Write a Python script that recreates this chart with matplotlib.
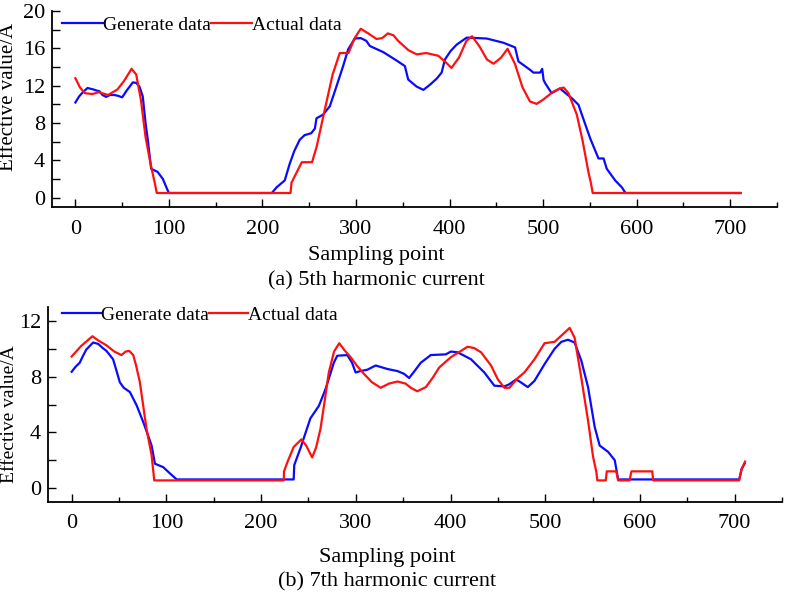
import matplotlib
matplotlib.use("Agg")
import matplotlib.pyplot as plt
from matplotlib.ticker import MultipleLocator

plt.rcParams['font.family'] = ['Liberation Serif', 'DejaVu Serif']

# (a) 5th harmonic current
gen5_x = [0, 4, 8, 13, 19, 22, 25.7, 29, 32.8, 37, 41.8, 46, 50, 55, 61.4, 65, 68.5, 72,
          75, 77.4, 79, 81, 88, 93.5, 98.8, 100, 210, 215, 223.8, 229, 234, 239.8, 245,
          252, 256, 257.7, 264.8, 272, 279, 286.2, 291.6, 298.7, 305, 311, 314.8, 329,
          343.3, 352.2, 355.8, 364.8, 372, 379, 386.2, 391.5, 395, 401, 407.6, 418.3,
          439.7, 457.5, 470, 473.6, 486, 489.6, 496.8, 499, 500.5, 502, 509, 518, 524,
          530.7, 537.8, 541.4, 550.3, 559.2, 564.6, 568, 577, 584.2, 588, 711]
gen5_y = [10.2, 10.85, 11.3, 11.75, 11.6, 11.5, 11.4, 11.0, 10.8, 11.0, 11.0, 10.9, 10.75,
          11.5, 12.35, 12.3, 11.9, 10.85, 8.0, 6.2, 4.8, 3.1, 2.75, 2.0, 0.75, 0.5, 0.5,
          1.1, 1.85, 3.6, 5.0, 6.2, 6.7, 6.9, 7.4, 8.5, 8.9, 9.8, 11.9, 14.1, 15.9, 17.05,
          17.1, 16.8, 16.25, 15.6, 14.7, 14.1, 12.65, 11.9, 11.55, 12.1, 12.75, 13.4,
          14.8, 15.7, 16.4, 17.15, 17.05, 16.6, 16.1, 14.6, 13.7, 13.4, 13.4, 13.8, 12.6,
          12.3, 11.2, 11.7, 11.2, 10.65, 9.95, 8.9, 6.35, 4.2, 4.2, 3.1, 1.85, 1.1, 0.5, 0.5]

act5_x = [0, 5, 10, 18, 25, 35, 45, 52, 60, 65, 70, 75, 80, 85, 87, 230, 231, 236, 242,
          253, 258, 266.5, 275, 282.6, 292, 298, 305, 313, 322, 328, 334, 340, 345, 356,
          365, 375, 388, 396, 402, 410, 418, 424, 432, 440, 447, 455, 462, 470, 478, 486,
          493, 500, 510, 518, 522, 527, 536, 542, 548.5, 551, 553, 711]
act5_y = [12.8, 11.8, 11.2, 11.1, 11.3, 11.0, 11.6, 12.5, 13.8, 13.2, 10.5, 6.5, 3.8, 1.5,
          0.5, 0.5, 1.6, 2.6, 3.8, 3.8, 5.5, 9.4, 13.2, 15.5, 15.5, 17.0, 18.1, 17.6, 17.0,
          17.1, 17.6, 17.4, 16.8, 15.8, 15.35, 15.5, 15.2, 14.5, 13.9, 15.0, 16.8, 17.3,
          16.2, 14.8, 14.35, 15.0, 15.95, 14.3, 11.8, 10.3, 10.05, 10.5, 11.3, 11.7, 11.8,
          11.2, 8.9, 6.2, 2.7, 1.6, 0.5, 0.5]

# (b) 7th harmonic current
gen7_x = [0, 4, 8.5, 12, 15.5, 22.6, 28, 32, 36.7, 43.7, 47, 50.8, 55, 61.4, 68.5, 75.5,
          80, 84.4, 87.9, 96.7, 103.8, 110.9, 234.4, 235, 241.5, 252, 261, 268, 276.8,
          280.4, 291, 296, 299.8, 305, 312.2, 321, 333.3, 344, 351, 356.3, 362, 368.6,
          379.2, 395, 400.4, 407.4, 421.6, 435.7, 446.3, 456.9, 462, 469.3, 474, 481.6,
          488.7, 499.3, 509.9, 517, 524, 531, 538.1, 545.2, 552.2, 557.5, 566.4, 573.4,
          577, 704.8, 707.6, 710.5]
gen7_y = [8.35, 8.7, 9.0, 9.5, 9.95, 10.45, 10.35, 10.1, 9.85, 9.25, 8.5, 7.6, 7.2, 6.9,
          5.95, 4.75, 3.9, 3.05, 1.75, 1.5, 1.05, 0.62, 0.62, 1.65, 2.85, 5.0, 5.9, 7.1,
          9.0, 9.5, 9.55, 9.0, 8.3, 8.4, 8.5, 8.8, 8.55, 8.4, 8.2, 7.9, 8.4, 9.0, 9.55,
          9.6, 9.8, 9.75, 9.25, 8.3, 7.35, 7.3, 7.45, 7.8, 7.6, 7.25, 7.7, 8.9, 10.0,
          10.5, 10.65, 10.45, 9.15, 7.25, 4.4, 3.05, 2.6, 2.0, 0.62, 0.62, 1.4, 1.75]

act7_x = [0, 10, 21.9, 28, 36.7, 45, 52.6, 57, 60.7, 65, 68, 72, 79, 84.4, 87.2, 223.9,
          224.2, 228, 234.4, 242.6, 248, 253.9, 258, 262.7, 267, 271.5, 277, 282.5, 288,
          294.5, 301, 308.6, 317, 326.3, 335, 344, 352.6, 358, 365, 374, 381, 388, 400.4,
          410, 418, 425, 432.2, 442.8, 450, 456.9, 462.2, 471, 478, 488.7, 499.3, 509.9,
          518.7, 525.8, 531, 538, 545.2, 550.5, 554, 555, 563.9, 565, 575, 577, 589, 591,
          613, 614, 704.8, 707, 711]
act7_y = [9.45, 10.2, 10.9, 10.6, 10.25, 9.8, 9.55, 9.8, 9.85, 9.55, 8.8, 7.6, 4.25, 2.35,
          0.55, 0.55, 1.2, 1.9, 2.95, 3.5, 3.0, 2.2, 2.9, 4.25, 6.2, 8.3, 9.8, 10.4, 9.9,
          9.4, 8.8, 8.2, 7.6, 7.2, 7.5, 7.65, 7.5, 7.2, 6.95, 7.25, 7.9, 8.65, 9.4, 9.8,
          10.15, 10.05, 9.75, 8.8, 7.8, 7.2, 7.2, 7.9, 8.3, 9.25, 10.4, 10.5, 11.05, 11.5,
          10.8, 7.95, 4.85, 2.25, 1.15, 0.55, 0.55, 1.2, 1.2, 0.55, 0.55, 1.2, 1.2, 0.55,
          0.55, 1.3, 1.9]

fig = plt.figure(figsize=(7.86, 5.97), dpi=100)


def style_axes(ax, ylim, ymajor):
    ax.set_xlim(-25, 750)
    ax.set_ylim(*ylim)
    ax.spines['top'].set_visible(False)
    ax.spines['right'].set_visible(False)
    ax.xaxis.set_major_locator(MultipleLocator(100))
    ax.xaxis.set_minor_locator(MultipleLocator(50))
    ax.yaxis.set_major_locator(MultipleLocator(ymajor))
    ax.yaxis.set_minor_locator(MultipleLocator(2))
    ax.tick_params(axis='x', which='major', direction='in', length=6, width=1, pad=9, labelsize=16)
    ax.tick_params(axis='x', which='minor', direction='in', length=3.5, width=1)
    ax.tick_params(axis='y', which='both', direction='in', length=6, width=1, pad=5, labelsize=16)
    for s in ('left', 'bottom'):
        ax.spines[s].set_linewidth(1.3)


# top panel
ax1 = fig.add_axes([52/786, 1-207/597, 725/786, 196/597])
l1, = ax1.plot(gen5_x, gen5_y, color='#0a0aff', lw=1.6)
l2, = ax1.plot(act5_x, act5_y, color='#ff1010', lw=1.6)
style_axes(ax1, (-1, 20), 4)
ax1.set_xlabel("Sampling point", fontsize=16)
ax1.xaxis.set_label_coords((376-52)/725, -0.2)
ax1.set_ylabel("Effective value/A", fontsize=15)
ax1.yaxis.set_label_coords((18-52)/725, 0.56)
ax1.legend([l1, l2], ["Generate data", "Actual data"], ncol=2, frameon=False, fontsize=14,
           loc='center left', bbox_to_anchor=((62-52)/725, (207-25)/196),
           handlelength=2.1, handletextpad=0.0, columnspacing=0.0, borderpad=0, borderaxespad=0)
fig.text(376/786, 1-281/597, "(a) 5th harmonic current", ha='center', va='center', fontsize=16)

# bottom panel
ax2 = fig.add_axes([48/786, 1-502/597, 734/786, 195/597])
l3, = ax2.plot(gen7_x, gen7_y, color='#0a0aff', lw=1.6)
l4, = ax2.plot(act7_x, act7_y, color='#ff1010', lw=1.6)
style_axes(ax2, (-1, 13), 4)
ax2.set_xlabel("Sampling point", fontsize=16)
ax2.xaxis.set_label_coords((387-48)/734, -0.235)
ax2.set_ylabel("Effective value/A", fontsize=14)
ax2.yaxis.set_label_coords((18-48)/734, 0.45)
ax2.legend([l3, l4], ["Generate data", "Actual data"], ncol=2, frameon=False, fontsize=14,
           loc='center left', bbox_to_anchor=((62-48)/734, (502-315)/195),
           handlelength=2.0, handletextpad=0.0, columnspacing=0.0, borderpad=0, borderaxespad=0)
fig.text(387/786, 1-582/597, "(b) 7th harmonic current", ha='center', va='center', fontsize=16)

plt.savefig("out.png", dpi=100)
